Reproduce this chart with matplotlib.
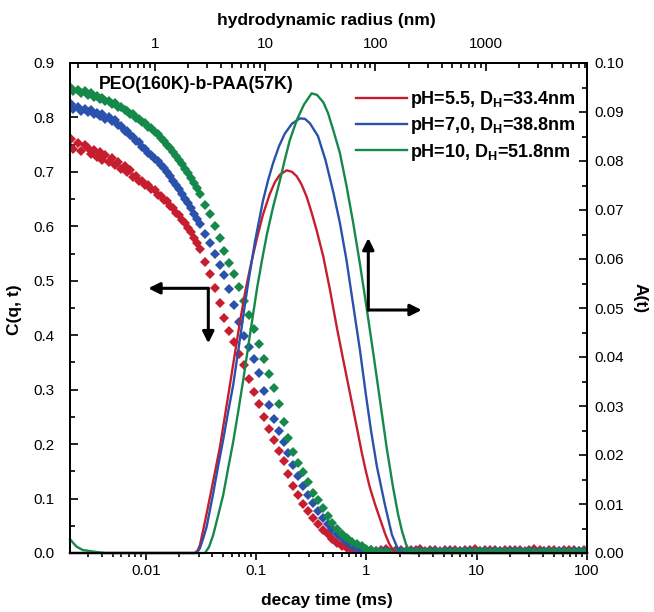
import matplotlib
matplotlib.use("Agg")
import matplotlib.pyplot as plt
from matplotlib.ticker import MultipleLocator, FormatStrFormatter, LogLocator, NullFormatter

plt.rcParams['font.family'] = ['Liberation Sans', 'DejaVu Sans']
plt.rcParams['mathtext.fontset'] = 'custom'
plt.rcParams['mathtext.rm'] = 'Liberation Sans'
plt.rcParams['mathtext.bf'] = 'Liberation Sans:bold'

# ---------------- data ----------------
# correlator decay times (ms)
decay_time = [0.0021, 0.0022, 0.0024, 0.0026, 0.0028, 0.0030, 0.0032, 0.0034, 0.0036, 0.0038,
              0.0040, 0.0043, 0.0046, 0.0049, 0.0052, 0.0056, 0.0060, 0.0064, 0.0068, 0.0072,
              0.0077, 0.0082, 0.0087, 0.0093, 0.0099, 0.0105, 0.0112, 0.0120, 0.0128, 0.0136,
              0.0145, 0.0155, 0.0165, 0.0176, 0.0188, 0.0200, 0.0213, 0.0227, 0.0242, 0.0258,
              0.0275, 0.0293,
              0.031, 0.0345, 0.038, 0.042, 0.0465, 0.0515, 0.057, 0.063, 0.070, 0.0775,
              0.086, 0.095, 0.105, 0.117, 0.130, 0.144, 0.160, 0.177, 0.196, 0.217,
              0.240, 0.266, 0.295, 0.327, 0.362, 0.400, 0.445, 0.490, 0.545, 0.600,
              0.670, 0.740, 0.820, 0.910, 1.00,
              1.10, 1.22, 1.35, 1.50, 1.66, 1.84, 2.04, 2.27, 2.51, 2.79,
              3.09, 3.43, 3.80, 4.22, 4.68, 5.19, 5.75, 6.38, 7.08, 7.85,
              8.70, 9.65, 10.7, 11.9, 13.2, 14.6, 16.2, 18.0, 19.9, 22.1,
              24.5, 27.2, 30.1, 33.4, 37.1, 41.1, 45.6, 50.5, 56.1, 62.2,
              69.0, 76.5, 84.8, 94.1]

# C(q,t) correlation functions
C_pH55 = [0.760, 0.742, 0.753, 0.738, 0.750, 0.744, 0.733, 0.741, 0.728, 0.736,
          0.722, 0.731, 0.718, 0.726, 0.712, 0.718, 0.705, 0.710, 0.699, 0.703,
          0.690, 0.693, 0.684, 0.684, 0.675, 0.676, 0.668, 0.666, 0.658, 0.656,
          0.649, 0.646, 0.638, 0.634, 0.625, 0.620, 0.612, 0.606, 0.597, 0.589,
          0.579, 0.569, 0.559, 0.535, 0.512, 0.486, 0.460, 0.432, 0.407, 0.388,
          0.366, 0.345, 0.320, 0.296, 0.273, 0.249, 0.227, 0.208, 0.188, 0.169,
          0.146, 0.123, 0.106, 0.090, 0.077, 0.065, 0.053, 0.043, 0.034, 0.025,
          0.019, 0.013, 0.009, 0.006, 0.004, 0.004, 0.005,
          0.006, 0.004, 0.005, 0.007, 0.004, 0.006, 0.005, 0.004, 0.006, 0.005,
          0.007, 0.004, 0.005, 0.006, 0.004, 0.005, 0.006, 0.005, 0.004, 0.006,
          0.005, 0.007, 0.004, 0.005, 0.006, 0.005, 0.004, 0.006, 0.005, 0.005,
          0.006, 0.004, 0.005, 0.007, 0.005, 0.004, 0.006, 0.005, 0.004, 0.006,
          0.005, 0.006, 0.004, 0.005]
C_pH70 = [0.824, 0.815, 0.820, 0.812, 0.816, 0.810, 0.813, 0.806, 0.809, 0.803,
          0.806, 0.798, 0.800, 0.793, 0.795, 0.786, 0.785, 0.776, 0.775, 0.767,
          0.765, 0.757, 0.755, 0.745, 0.742, 0.735, 0.731, 0.724, 0.720, 0.712,
          0.707, 0.699, 0.692, 0.684, 0.676, 0.668, 0.659, 0.651, 0.642, 0.634,
          0.623, 0.613, 0.604, 0.586, 0.569, 0.550, 0.529, 0.510, 0.484, 0.455,
          0.425, 0.399, 0.379, 0.357, 0.330, 0.297, 0.272, 0.247, 0.225, 0.204,
          0.183, 0.161, 0.141, 0.123, 0.107, 0.091, 0.077, 0.065, 0.054, 0.045,
          0.035, 0.027, 0.020, 0.013, 0.009, 0.005, 0.004,
          0.003, 0.002, 0.003, 0.004, 0.002, 0.003, 0.003, 0.002, 0.004, 0.003,
          0.003, 0.002, 0.003, 0.004, 0.002, 0.003, 0.003, 0.002, 0.004, 0.003,
          0.003, 0.002, 0.003, 0.004, 0.002, 0.003, 0.003, 0.002, 0.004, 0.003,
          0.003, 0.002, 0.003, 0.004, 0.002, 0.003, 0.003, 0.002, 0.004, 0.003,
          0.002, 0.003, 0.004, 0.003]
C_pH10 = [0.855, 0.848, 0.851, 0.845, 0.848, 0.842, 0.844, 0.838, 0.840, 0.834,
          0.836, 0.830, 0.831, 0.825, 0.826, 0.819, 0.819, 0.813, 0.812, 0.806,
          0.806, 0.799, 0.798, 0.791, 0.789, 0.783, 0.780, 0.773, 0.769, 0.762,
          0.757, 0.750, 0.744, 0.737, 0.729, 0.722, 0.714, 0.706, 0.698, 0.689,
          0.680, 0.670, 0.659, 0.640, 0.623, 0.601, 0.578, 0.554, 0.532, 0.512,
          0.489, 0.463, 0.438, 0.412, 0.383, 0.357, 0.329, 0.303, 0.273, 0.241,
          0.211, 0.185, 0.166, 0.149, 0.130, 0.110, 0.097, 0.083, 0.068, 0.056,
          0.044, 0.035, 0.028, 0.021, 0.017, 0.012, 0.008,
          0.005, 0.003, 0.002, 0.002, 0.001, 0.002, 0.001, 0.001, 0.002, 0.001,
          0.001, 0.002, 0.001, 0.001, 0.002, 0.001, 0.001, 0.002, 0.001, 0.001,
          0.001, 0.002, 0.001, 0.001, 0.002, 0.001, 0.001, 0.002, 0.001, 0.001,
          0.001, 0.002, 0.001, 0.001, 0.002, 0.001, 0.001, 0.002, 0.001, 0.001,
          0.001, 0.002, 0.001, 0.001]

# A(t) decay-time distributions
A_t_pH55 = [0.00205, 0.0278, 0.0296, 0.0309, 0.0331, 0.0355, 0.0381, 0.0423, 0.0469, 0.0521,
            0.0578, 0.0642, 0.0712, 0.0791, 0.0878, 0.101, 0.115, 0.133, 0.148, 0.164,
            0.189, 0.211, 0.233, 0.258, 0.287, 0.318, 0.353, 0.406, 0.467, 0.537,
            0.616, 0.709, 0.815, 0.905, 0.990, 1.076, 1.194, 1.326, 1.472, 1.600,
            1.740, 1.891, 100]
A_pH55 = [0, 0, 0.0006, 0.0016, 0.0047, 0.0080, 0.0114, 0.0165, 0.0216, 0.0280,
          0.0343, 0.0408, 0.0471, 0.0530, 0.0580, 0.0640, 0.0690, 0.0733, 0.0757, 0.0772,
          0.0781, 0.0778, 0.0769, 0.0752, 0.0727, 0.0695, 0.0659, 0.0605, 0.0537, 0.0462,
          0.0394, 0.0326, 0.0258, 0.0206, 0.0166, 0.0133, 0.0100, 0.0070, 0.0040, 0.0020,
          0.0006, 0, 0]
A_t_pH70 = [0.00205, 0.0290, 0.0309, 0.0331, 0.0355, 0.0408, 0.0450, 0.0502, 0.0554, 0.0619,
            0.0669, 0.0727, 0.0782, 0.0842, 0.0974, 0.115, 0.128, 0.142, 0.161, 0.182,
            0.211, 0.249, 0.277, 0.307, 0.363, 0.425, 0.502, 0.575, 0.659, 0.770,
            0.873, 0.990, 1.098, 1.245, 1.472, 1.703, 1.931, 2.144, 100]
A_pH70 = [0, 0, 0.0010, 0.0030, 0.0053, 0.0122, 0.0175, 0.0231, 0.0285, 0.0343,
          0.0395, 0.0450, 0.0500, 0.0548, 0.0635, 0.0718, 0.0760, 0.0795, 0.0830, 0.0856,
          0.0876, 0.0887, 0.0886, 0.0877, 0.0851, 0.0802, 0.0735, 0.0673, 0.0598, 0.0496,
          0.0414, 0.0322, 0.0251, 0.0176, 0.0098, 0.0037, 0.0008, 0, 0]
A_t_pH10 = [0.00205, 0.00235, 0.00268, 0.00331, 0.00425, 0.0343, 0.0373, 0.0408, 0.0450, 0.0502,
            0.0554, 0.0619, 0.0683, 0.0763, 0.0878, 0.102, 0.113, 0.125, 0.142, 0.164,
            0.182, 0.202, 0.234, 0.271, 0.318, 0.356, 0.406, 0.448, 0.500, 0.575,
            0.661, 0.759, 0.873, 1.004, 1.153, 1.326, 1.525, 1.740, 1.931, 2.099,
            2.282, 2.429, 2.587, 100]
A_pH10 = [0.0028, 0.0013, 0.0006, 0.0003, 0, 0, 0.0012, 0.0037, 0.0075, 0.0118,
          0.0170, 0.0227, 0.0285, 0.0353, 0.0445, 0.0541, 0.0598, 0.0650, 0.0705, 0.0760,
          0.0803, 0.0843, 0.0884, 0.0915, 0.0938, 0.0935, 0.0920, 0.0898, 0.0863, 0.0816,
          0.0748, 0.0673, 0.0590, 0.0500, 0.0408, 0.0312, 0.0215, 0.0135, 0.0080, 0.0045,
          0.0018, 0.0006, 0, 0]

series_labels = [r'pH=5.5, D$_{\mathbf{H}}$=33.4nm',
                 r'pH=7,0, D$_{\mathbf{H}}$=38.8nm',
                 r'pH=10, D$_{\mathbf{H}}$=51.8nm']
colors = ['#C61E2E', '#2A51AC', '#14894A']

x_ticks = [0.01, 0.1, 1, 10, 100]
x_ticklabels = ['0.01', '0.1', '1', '10', '100']
top_ticks = [1, 10, 100, 1000]
top_ticklabels = ['1', '10', '100', '1000']
x_limits = (0.00205, 100)
radius_per_ms = 83.0   # hydrodynamic radius (nm) per ms of decay time

# ---------------- figure ----------------
fig = plt.figure(figsize=(6.54, 6.12), dpi=100)
ax1 = fig.add_axes([70 / 654, 1 - 553 / 612, 517 / 654, 490 / 612])

for C, col in zip([C_pH55, C_pH70, C_pH10], colors):
    ax1.plot(decay_time, C, linestyle='none', marker='D', markersize=5.4,
             markeredgewidth=0, color=col)

ax1.set_xscale('log')
ax1.set_xlim(*x_limits)
ax1.set_ylim(0, 0.9)
ax1.set_xticks(x_ticks)
ax1.set_xticklabels(x_ticklabels)
ax1.xaxis.set_minor_locator(LogLocator(base=10, subs=[2, 3, 4, 5, 6, 7, 8, 9], numticks=20))
ax1.xaxis.set_minor_formatter(NullFormatter())
ax1.yaxis.set_major_locator(MultipleLocator(0.1))
ax1.yaxis.set_minor_locator(MultipleLocator(0.05))
ax1.yaxis.set_major_formatter(FormatStrFormatter('%.1f'))
ax1.tick_params(axis='x', which='both', direction='out', labelsize=11, width=1.2, pad=3)
ax1.tick_params(axis='x', which='major', length=5)
ax1.tick_params(axis='x', which='minor', length=3)
ax1.tick_params(axis='y', which='both', direction='in', labelsize=11, width=1.2, pad=11)
ax1.tick_params(axis='y', which='major', length=6)
ax1.tick_params(axis='y', which='minor', length=3.5)
for s in ax1.spines.values():
    s.set_linewidth(1.3)

ax1.set_xlabel('decay time (ms)', fontsize=12.5, fontweight='bold', va='center')
ax1.xaxis.set_label_coords(0.497, -0.096)
ax1.set_ylabel('C(q, t)', fontsize=12.5, fontweight='bold', va='center', ha='center')
ax1.yaxis.set_label_coords(-0.108, 0.496)

ax2 = ax1.twinx()
handles = []
for t, A, col, lab in zip([A_t_pH55, A_t_pH70, A_t_pH10], [A_pH55, A_pH70, A_pH10],
                          colors, series_labels):
    h, = ax2.plot(t, A, color=col, linewidth=1.7, label=lab, clip_on=False,
                  solid_joinstyle='round')
    handles.append(h)
ax2.set_ylim(0, 0.10)
ax2.yaxis.set_major_locator(MultipleLocator(0.01))
ax2.yaxis.set_minor_locator(MultipleLocator(0.005))
ax2.yaxis.set_major_formatter(FormatStrFormatter('%.2f'))
ax2.tick_params(axis='y', which='both', direction='in', labelsize=11, width=1.2, pad=5.5)
ax2.tick_params(axis='y', which='major', length=6)
ax2.tick_params(axis='y', which='minor', length=3.5)
ax2.set_ylabel('A(t)', fontsize=12.5, fontweight='bold', rotation=270, va='center', ha='center')
ax2.yaxis.set_label_coords(1.103, 0.52)
for s in ax2.spines.values():
    s.set_linewidth(1.3)

ax3 = ax1.twiny()
ax3.set_xscale('log')
ax3.set_xlim(x_limits[0] * radius_per_ms, x_limits[1] * radius_per_ms)
ax3.set_xticks(top_ticks)
ax3.set_xticklabels(top_ticklabels)
ax3.xaxis.set_minor_locator(LogLocator(base=10, subs=[2, 3, 4, 5, 6, 7, 8, 9], numticks=20))
ax3.xaxis.set_minor_formatter(NullFormatter())
ax3.tick_params(axis='x', which='both', direction='in', labelsize=11, width=1.2, pad=9)
ax3.tick_params(axis='x', which='major', length=6)
ax3.tick_params(axis='x', which='minor', length=3.5)
ax3.set_xlabel('hydrodynamic radius (nm)', fontsize=12.5, fontweight='bold', va='center')
ax3.xaxis.set_label_coords(0.495, 1.086)
for s in ax3.spines.values():
    s.set_linewidth(1.3)

leg = ax2.legend(handles=handles, loc='upper right', bbox_to_anchor=(0.979, 0.947),
                 frameon=False, prop=dict(weight='bold', size=13),
                 handlelength=2.8, handletextpad=0.2, labelspacing=0.3,
                 borderpad=0, borderaxespad=0)

ax2.text(0.055, 0.957, 'PEO(160K)-b-PAA(57K)', transform=ax2.transAxes,
         fontsize=12.8, fontweight='bold', ha='left', va='center')

# direction arrows (which axis each data set belongs to)
arrow_kw = dict(arrowstyle='-|>', lw=2.2, color='black', mutation_scale=17,
                shrinkA=0, shrinkB=0)
ax2.annotate('', xy=(0.1514, 0.5402), xytext=(0.2675, 0.5402),
             xycoords='axes fraction', textcoords='axes fraction', arrowprops=arrow_kw)
ax2.annotate('', xy=(0.2675, 0.4280), xytext=(0.2675, 0.5402),
             xycoords='axes fraction', textcoords='axes fraction', arrowprops=arrow_kw)
ax2.annotate('', xy=(0.5770, 0.6429), xytext=(0.5770, 0.4959),
             xycoords='axes fraction', textcoords='axes fraction', arrowprops=arrow_kw)
ax2.annotate('', xy=(0.6803, 0.4959), xytext=(0.5770, 0.4959),
             xycoords='axes fraction', textcoords='axes fraction', arrowprops=arrow_kw)

fig.savefig('out.png', dpi=100)
